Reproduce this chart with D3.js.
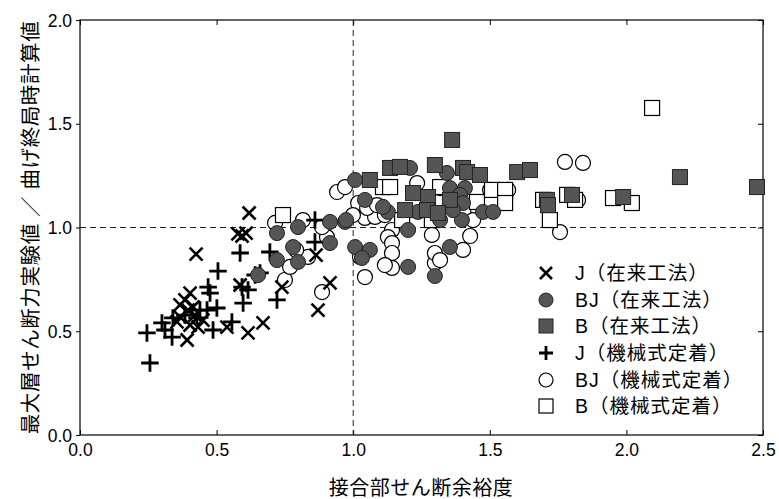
<!DOCTYPE html>
<html><head><meta charset="utf-8">
<script src="https://cdn.jsdelivr.net/npm/d3@7"></script>
<style>body{margin:0;background:#fff}text{font-family:"Liberation Sans",Arial,"Noto Sans CJK JP",sans-serif}</style>
</head><body><svg id="c" width="779" height="499"></svg>
<script>
const xTicks=[0,0.5,1.0,1.5,2.0,2.5];
const yTicks=[0,0.5,1.0,1.5,2.0];
const seriesNames=["J（在来工法）","BJ（在来工法）","B（在来工法）","J（機械式定着）","BJ（機械式定着）","B（機械式定着）"];
const jConv=[[0.619,1.070],[0.578,0.969],[0.608,0.973],[0.593,0.959],[0.425,0.872],[0.586,0.723],[0.670,0.540],[0.615,0.492],[0.403,0.684],[0.366,0.627],[0.395,0.602],[0.421,0.578],[0.366,0.569],[0.403,0.530],[0.432,0.520],[0.392,0.458],[0.355,0.545],[0.538,0.520],[0.864,0.867],[0.915,0.733],[0.871,0.602],[0.739,0.713],[0.414,0.617],[0.384,0.651],[0.450,0.554]];
const bjConv=[[0.721,0.973],[0.798,1.002],[0.780,0.906],[0.721,0.843],[0.798,0.834],[0.652,0.771],[0.915,1.027],[0.970,1.027],[0.915,0.925],[1.007,0.906],[1.061,0.892],[1.032,0.853],[1.043,1.133],[1.007,1.229],[0.974,1.036],[1.127,1.075],[1.109,1.099],[1.201,0.988],[1.201,0.810],[1.299,0.766],[1.208,1.287],[1.354,0.906],[1.398,1.036],[1.475,1.075],[1.512,1.075],[1.354,1.190],[1.409,1.190],[1.391,1.157],[1.402,1.118],[1.365,1.084],[1.318,1.036],[1.343,1.263],[1.237,1.075]];
const bConv=[[1.362,1.422],[1.299,1.301],[1.135,1.287],[1.171,1.292],[1.061,1.229],[1.402,1.287],[1.417,1.267],[1.464,1.253],[1.219,1.166],[1.274,1.147],[1.354,1.133],[1.190,1.084],[1.270,1.084],[1.310,1.070],[1.600,1.267],[1.647,1.277],[1.709,1.133],[1.713,1.108],[1.801,1.157],[1.988,1.147],[2.196,1.243],[2.478,1.195]];
const jMech=[[0.256,0.347],[0.245,0.492],[0.300,0.540],[0.337,0.472],[0.340,0.564],[0.469,0.713],[0.476,0.684],[0.465,0.602],[0.501,0.612],[0.487,0.506],[0.505,0.790],[0.586,0.877],[0.597,0.636],[0.556,0.545],[0.593,0.713],[0.439,0.602],[0.428,0.564],[0.384,0.578],[0.615,0.699],[0.721,0.651],[0.695,0.882],[0.641,0.771],[0.860,0.930],[0.860,1.036],[0.659,0.781],[0.311,0.506]];
const bjMech=[[0.816,1.036],[0.750,0.747],[0.886,0.689],[0.904,0.954],[0.941,1.171],[0.835,0.858],[0.769,0.810],[0.714,1.022],[0.886,1.002],[0.970,1.195],[1.043,1.084],[1.043,1.046],[1.080,1.051],[1.105,1.099],[1.116,1.060],[1.142,0.988],[1.127,0.954],[1.142,0.925],[1.142,0.877],[1.142,0.805],[1.116,0.819],[1.043,0.761],[1.288,0.964],[1.299,0.829],[1.299,0.877],[1.234,1.214],[1.018,1.118],[1.051,1.094],[1.087,1.108],[1.402,0.892],[1.428,0.959],[1.457,1.084],[1.439,1.036],[1.318,1.190],[1.318,0.843],[1.501,1.181],[1.775,1.316],[1.841,1.311],[1.757,0.978],[1.823,1.133],[1.567,1.181],[0.999,1.060],[1.025,0.858],[0.791,0.892]];
const bMech=[[0.743,1.060],[1.109,1.195],[1.135,1.195],[1.318,1.195],[1.179,1.036],[1.288,1.036],[1.453,1.123],[1.508,1.181],[1.556,1.181],[1.556,1.118],[1.695,1.133],[1.720,1.036],[1.783,1.157],[1.812,1.133],[1.951,1.142],[2.020,1.118],[2.094,1.576]];

const svg=d3.select("#c");
const L=80,R=763,T=20,B=435;
const x=d3.scaleLinear().domain([0,2.5]).range([L,R]);
const y=d3.scaleLinear().domain([0,2.0]).range([B,T]);
const DARK="#555555";

const gB=svg.append("g").attr("transform",`translate(0,${B})`).call(d3.axisBottom(x).tickValues(xTicks).tickFormat(d3.format(".1f")).tickSizeInner(-5).tickSizeOuter(0).tickPadding(9));
const gL=svg.append("g").attr("transform",`translate(${L},0)`).call(d3.axisLeft(y).tickValues(yTicks).tickFormat(d3.format(".1f")).tickSizeInner(4).tickSizeOuter(0).tickPadding(4));
const gT=svg.append("g").attr("transform",`translate(0,${T})`).call(d3.axisTop(x).tickValues(xTicks).tickFormat("").tickSizeInner(-5).tickSizeOuter(0));
const gR=svg.append("g").attr("transform",`translate(${R},0)`).call(d3.axisRight(y).tickValues(yTicks).tickFormat("").tickSizeInner(-5).tickSizeOuter(0));
[gB,gL,gT,gR].forEach(g=>{g.select(".domain").remove();g.selectAll("line").attr("stroke","#000").attr("stroke-width",1);g.selectAll("text").attr("font-size",17.5).attr("fill","#000");});
gB.selectAll("text").attr("dy","0.71em");
gL.selectAll("text").attr("dy","0.35em");
svg.append("rect").attr("x",L).attr("y",T).attr("width",R-L).attr("height",B-T).attr("fill","none").attr("stroke","#000").attr("stroke-width",1.2);

svg.append("line").attr("x1",x(1)).attr("x2",x(1)).attr("y1",T).attr("y2",B).attr("stroke","#222").attr("stroke-dasharray","6,4").attr("stroke-width",1);
svg.append("line").attr("x1",L).attr("x2",R).attr("y1",y(1)).attr("y2",y(1)).attr("stroke","#222").attr("stroke-dasharray","6,4").attr("stroke-width",1);

const plot=svg.append("g");
function drawMarker(g,type,cx,cy,s){
  if(type==="x"){const h=s;g.append("path").attr("d",`M${cx-h},${cy-h}L${cx+h},${cy+h}M${cx-h},${cy+h}L${cx+h},${cy-h}`).attr("stroke","#000").attr("stroke-width",2.6).attr("fill","none");}
  else if(type==="plus"){const h=s*1.25;g.append("path").attr("d",`M${cx-h},${cy}L${cx+h},${cy}M${cx},${cy-h}L${cx},${cy+h}`).attr("stroke","#000").attr("stroke-width",2.8).attr("fill","none");}
  else if(type==="cd"){g.append("circle").attr("cx",cx).attr("cy",cy).attr("r",s).attr("fill",DARK).attr("stroke","#222").attr("stroke-width",1);}
  else if(type==="cw"){g.append("circle").attr("cx",cx).attr("cy",cy).attr("r",s).attr("fill","#fff").attr("stroke","#000").attr("stroke-width",1.2);}
  else if(type==="sd"){g.append("rect").attr("x",cx-s).attr("y",cy-s).attr("width",2*s).attr("height",2*s).attr("fill",DARK).attr("stroke","#222").attr("stroke-width",1);}
  else if(type==="sw"){g.append("rect").attr("x",cx-s).attr("y",cy-s).attr("width",2*s).attr("height",2*s).attr("fill","#fff").attr("stroke","#000").attr("stroke-width",1.2);}
}
const layers=[[bjMech,"cw",7.5],[bMech,"sw",7.5],[jMech,"plus",7],[bjConv,"cd",7.5],[bConv,"sd",7.5],[jConv,"x",6.5]];
layers.forEach(([data,type,s])=>data.forEach(d=>drawMarker(plot,type,x(d[0]),y(d[1]),s)));

const legTypes=["x","cd","sd","plus","cw","sw"];
const legY=[273,300,326,353,380,406];
const leg=svg.append("g");
seriesNames.forEach((n,i)=>{
  drawMarker(leg,legTypes[i],546,legY[i],legTypes[i]==="plus"?5.6:(legTypes[i]==="x"?6:7));
  leg.append("text").attr("x",575).attr("y",legY[i]).attr("dy","0.36em").attr("font-size",19.5).attr("letter-spacing",1).text(n);
});

svg.append("text").attr("x",421).attr("y",495).attr("text-anchor","middle").attr("font-size",20).attr("letter-spacing",0.5).text("接合部せん断余裕度");
svg.append("text").attr("transform",`translate(38,${(T+B)/2}) rotate(-90)`).attr("text-anchor","middle").attr("font-size",20.5).attr("letter-spacing",0.6).text("最大層せん断力実験値 ／ 曲げ終局時計算値");
</script></body></html>
